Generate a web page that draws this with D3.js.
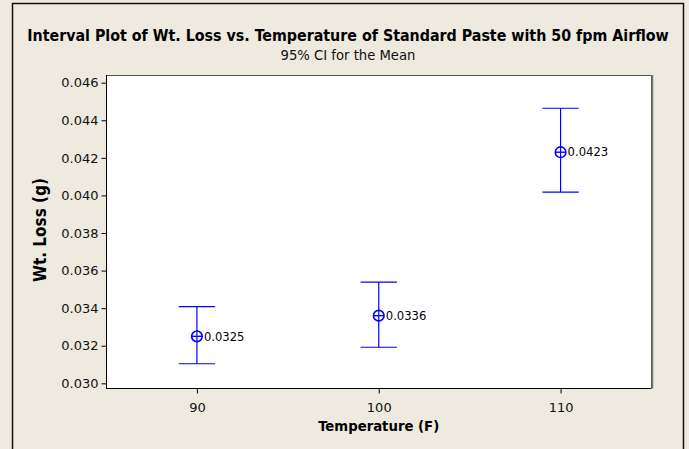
<!DOCTYPE html>
<html>
<head>
<meta charset="utf-8">
<script src="https://cdn.jsdelivr.net/npm/d3@7"></script>
<style>
  html, body { margin: 0; padding: 0; background: #EEEAE0; }
  svg { display: block; }
  text { font-family: "DejaVu Sans Condensed", "DejaVu Sans", sans-serif; }
</style>
</head>
<body>
<svg id="chart" width="689" height="449"></svg>
<script>
const temperatures = [90, 100, 110];
const meanValues = [0.0325, 0.0336, 0.0423];
const lowerCI = [0.03104, 0.03192, 0.04018];
const upperCI = [0.03408, 0.03539, 0.04464];
const meanLabels = ["0.0325", "0.0336", "0.0423"];
const yTickValues = [0.030, 0.032, 0.034, 0.036, 0.038, 0.040, 0.042, 0.044, 0.046];
const xTickValues = [90, 100, 110];
const titleText = "Interval Plot of Wt. Loss vs. Temperature of Standard Paste with 50 fpm Airflow";
const subtitleText = "95% CI for the Mean";
const xAxisTitle = "Temperature (F)";
const yAxisTitle = "Wt. Loss (g)";

const svg = d3.select("#chart");
const W = 689, H = 449;
const plot = { left: 106, right: 651.5, top: 75, bottom: 388 };
const blue = "#0000FF";

svg.append("rect").attr("width", W).attr("height", H).attr("fill", "#EEEAE0");
// outer frame
svg.append("path")
  .attr("d", `M12.5,${H + 2} V3.5 H683.5 V${H + 2}`)
  .attr("fill", "none").attr("stroke", "#111").attr("stroke-width", 1.5);

const x = d3.scaleLinear().domain([85, 115]).range([plot.left, plot.right]);
const y = d3.scaleLinear().domain([0.02975, 0.04641]).range([plot.bottom, plot.top]);

// plot area
svg.append("rect")
  .attr("x", plot.left).attr("y", plot.top)
  .attr("width", plot.right - plot.left).attr("height", plot.bottom - plot.top)
  .attr("fill", "#FFFFFF");
// top & right border (grey, shadowed)
svg.append("path")
  .attr("d", `M${plot.left},${plot.top + 0.5} H${plot.right} V${plot.bottom}`)
  .attr("fill", "none").attr("stroke", "#555").attr("stroke-width", 1);
svg.append("line")
  .attr("x1", plot.right + 1).attr("x2", plot.right + 1)
  .attr("y1", plot.top).attr("y2", plot.bottom + 0.5)
  .attr("stroke", "#777").attr("stroke-width", 1.5);

// axes
const yAxis = d3.axisLeft(y).tickValues(yTickValues).tickFormat(d3.format(".3f")).tickSizeOuter(0).tickSize(5).tickPadding(3);
const gy = svg.append("g").attr("transform", `translate(${plot.left + 0.5},0)`).call(yAxis);
const xAxis = d3.axisBottom(x).tickValues(xTickValues).tickFormat(d3.format("d")).tickSizeOuter(0).tickSize(5).tickPadding(9);
const gx = svg.append("g").attr("transform", `translate(0,${plot.bottom + 0.5})`).call(xAxis);

[gx, gy].forEach(g => {
  g.select(".domain").attr("stroke", "#000").attr("stroke-width", 1);
  g.selectAll(".tick line").attr("stroke", "#000");
  g.selectAll(".tick text").attr("fill", "#111").style("font-size", "13px")
    .style("font-family", '"DejaVu Sans", sans-serif');
});
gy.select(".domain").attr("d", `M0,${plot.top} V${plot.bottom + 0.5}`);
gx.select(".domain").attr("d", `M${plot.left},0 H${plot.right}`);

// intervals
const data = temperatures.map((t, i) => ({ t, m: meanValues[i], lo: lowerCI[i], hi: upperCI[i], lab: meanLabels[i] }));
const g = svg.append("g");
const grp = g.selectAll("g.iv").data(data).join("g").attr("class", "iv");
grp.append("line").attr("x1", d => x(d.t)).attr("x2", d => x(d.t))
  .attr("y1", d => y(d.lo)).attr("y2", d => y(d.hi))
  .attr("stroke", blue).attr("stroke-width", 1.2);
grp.append("line").attr("x1", d => x(d.t - 1)).attr("x2", d => x(d.t + 1))
  .attr("y1", d => y(d.hi)).attr("y2", d => y(d.hi))
  .attr("stroke", blue).attr("stroke-width", 1.2);
grp.append("line").attr("x1", d => x(d.t - 1)).attr("x2", d => x(d.t + 1))
  .attr("y1", d => y(d.lo)).attr("y2", d => y(d.lo))
  .attr("stroke", blue).attr("stroke-width", 1.2);
grp.append("circle").attr("cx", d => x(d.t)).attr("cy", d => y(d.m)).attr("r", 5.3)
  .attr("fill", "none").attr("stroke", blue).attr("stroke-width", 1.6);
grp.append("line").attr("x1", d => x(d.t) - 5.3).attr("x2", d => x(d.t) + 5.3)
  .attr("y1", d => y(d.m)).attr("y2", d => y(d.m))
  .attr("stroke", blue).attr("stroke-width", 1.4);
grp.append("text").attr("x", d => x(d.t) + 7).attr("y", d => y(d.m)).attr("dy", "0.36em")
  .attr("fill", "#000").style("font-size", "11.6px").style("font-family", '"DejaVu Sans", sans-serif')
  .text(d => d.lab);

// titles
function fit(sel, target) {
  const w = sel.node().getComputedTextLength();
  const fs = parseFloat(sel.style("font-size"));
  sel.style("font-size", (fs * target / w).toFixed(2) + "px");
}
const title = svg.append("text").attr("x", 348).attr("y", 41).attr("text-anchor", "middle")
  .attr("fill", "#000").style("font-weight", "bold").style("font-size", "16px").text(titleText);
fit(title, 642);
const sub = svg.append("text").attr("x", 348).attr("y", 60).attr("text-anchor", "middle")
  .attr("fill", "#111").style("font-size", "13px").text(subtitleText);
fit(sub, 135);
const xt = svg.append("text").attr("x", (plot.left + plot.right) / 2).attr("y", 431).attr("text-anchor", "middle")
  .attr("fill", "#000").style("font-weight", "bold").style("font-size", "14px").text(xAxisTitle);
fit(xt, 121);
const yt = svg.append("text").attr("transform", `translate(46,230) rotate(-90)`).attr("text-anchor", "middle")
  .attr("fill", "#000").style("font-weight", "bold").style("font-size", "14px").text(yAxisTitle);
fit(yt, 104);
</script>
</body>
</html>
